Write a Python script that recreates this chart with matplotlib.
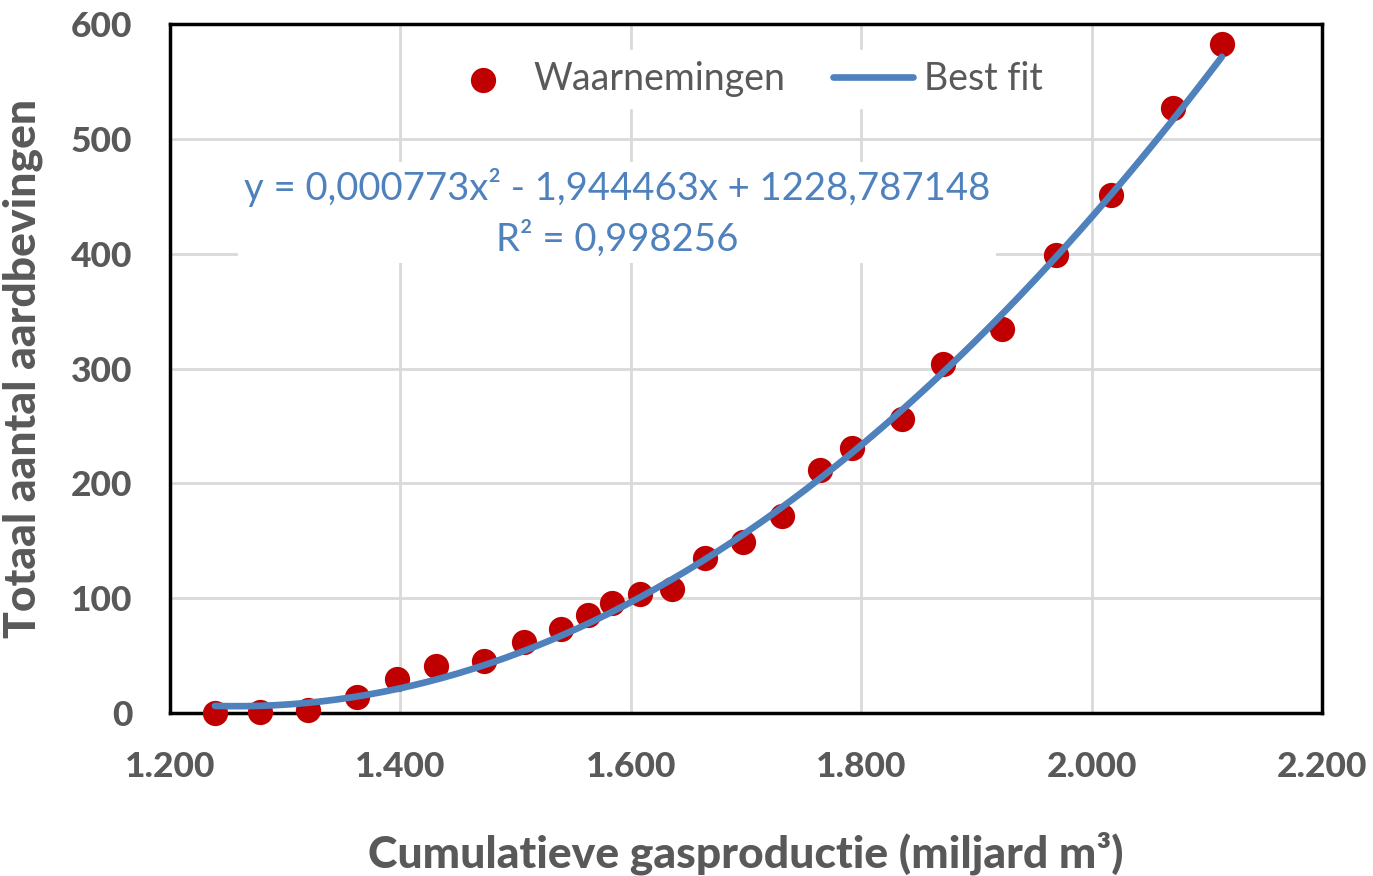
import matplotlib.pyplot as plt
import numpy as np

plt.rcParams['font.family'] = ['Lato', 'DejaVu Sans']

gas = [1239, 1278, 1320, 1362, 1397, 1431, 1473, 1507, 1539, 1563, 1584, 1608, 1636,
       1664, 1697, 1731, 1764, 1792, 1835, 1871, 1922, 1969, 2017, 2071, 2113]
quakes = [0, 1, 3, 14, 30, 41, 45, 62, 73, 85, 96, 104, 108,
          135, 149, 172, 212, 231, 256, 304, 334, 399, 451, 527, 583]

# fit coefficients as shown on the chart
coef = [0.000773, -1.944463, 1228.787148]
r2 = 0.998256

xticks = [1200, 1400, 1600, 1800, 2000, 2200]
xticklabels = ['1.200', '1.400', '1.600', '1.800', '2.000', '2.200']
yticks = [0, 100, 200, 300, 400, 500, 600]

grey = '#595959'
red = '#c00000'
blue = '#4f81bd'

fig = plt.figure(figsize=(13.73, 8.76), dpi=100)
ax = fig.add_axes([0.1238, 0.186, 0.8391, 0.7866])

xs = np.linspace(min(gas), max(gas), 200)
ys = np.polyval(coef, xs)

ax.scatter(gas, quakes, s=330, color=red, zorder=3, label='Waarnemingen', linewidths=0,
           clip_on=False)
ax.plot(xs, ys, color=blue, lw=4.8, zorder=4, label='Best fit', solid_capstyle='round')

ax.set_xlim(1200, 2200)
ax.set_ylim(0, 600)
ax.set_xticks(xticks)
ax.set_xticklabels(xticklabels)
ax.set_yticks(yticks)
ax.grid(True, color='#d9d9d9', lw=2)
ax.set_axisbelow(True)
for sp in ax.spines.values():
    sp.set_linewidth(2.5)
    sp.set_color('black')
ax.tick_params(axis='y', length=0, labelsize=25.5, labelcolor=grey, pad=27)
ax.tick_params(axis='x', length=0, labelsize=25.5, labelcolor=grey, pad=27)
for lab in ax.get_xticklabels() + ax.get_yticklabels():
    lab.set_fontweight('black')

ax.set_xlabel('Cumulatieve gasproductie (miljard m³)', fontsize=32, fontweight='black',
              color=grey, labelpad=35)
ax.set_ylabel('Totaal aantal aardbevingen', fontsize=32, fontweight='black',
              color=grey, labelpad=20)

leg = ax.legend(loc='center', bbox_to_anchor=(0.497, 0.92), ncol=2, frameon=True,
                fontsize=27, handlelength=2.13, columnspacing=1.25, handletextpad=0.3,
                markerscale=1.0, borderpad=0.3)
leg.get_frame().set_edgecolor('white')
leg.get_frame().set_facecolor('white')
leg.get_frame().set_alpha(1)
for t in leg.get_texts():
    t.set_color(grey)

eq = (f'y = {coef[0]:.6f}x² - {abs(coef[1]):.6f}x + {coef[2]:.6f}\n'
      f'R² = {r2:.6f}').replace('.', ',')
ax.text(0.388, 0.726, eq, transform=ax.transAxes, ha='center', va='center', fontsize=27.5,
        color=blue, linespacing=1.45,
        bbox=dict(facecolor='white', edgecolor='none', pad=4))

fig.savefig('out.png', dpi=100)
